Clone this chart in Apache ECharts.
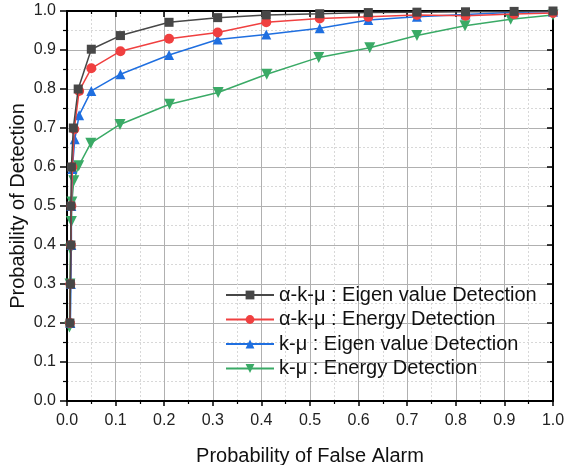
<!DOCTYPE html>
<html><head><meta charset="utf-8">
<script src="https://cdn.jsdelivr.net/npm/echarts@6/dist/echarts.min.js"></script>
<style>html,body{margin:0;padding:0;background:#fff}#c{width:566px;height:465px}</style>
</head><body><div id="c"></div>
<script>
var seriesNames = ['α-k-μ : Eigen value Detection','α-k-μ : Energy Detection','k-μ : Eigen value Detection','k-μ : Energy Detection'];
var akmEigen = [[0.006,0.2],[0.007,0.3],[0.008,0.4],[0.008,0.5],[0.009,0.6],[0.013,0.70],[0.023,0.80],[0.05,0.902],[0.11,0.937],[0.21,0.971],[0.31,0.983],[0.41,0.99],[0.52,0.993],[0.62,0.996],[0.72,0.997],[0.82,0.998],[0.92,0.999],[1.0,1.0]];
var akmEnergy = [[0.006,0.2],[0.007,0.3],[0.008,0.4],[0.009,0.5],[0.011,0.6],[0.015,0.697],[0.025,0.795],[0.05,0.853],[0.11,0.897],[0.21,0.929],[0.31,0.945],[0.41,0.971],[0.52,0.981],[0.62,0.985],[0.72,0.99],[0.82,0.988],[0.92,0.992],[1.0,0.995]];
var kmEigen = [[0.007,0.2],[0.008,0.3],[0.009,0.4],[0.009,0.5],[0.011,0.595],[0.016,0.671],[0.025,0.733],[0.05,0.795],[0.11,0.838],[0.21,0.887],[0.31,0.927],[0.41,0.94],[0.52,0.956],[0.62,0.977],[0.72,0.985],[0.82,0.991],[0.92,0.997],[1.0,0.998]];
var kmEnergy = [[0.005,0.19],[0.006,0.3],[0.007,0.39],[0.009,0.46],[0.01,0.51],[0.014,0.565],[0.024,0.603],[0.049,0.661],[0.109,0.709],[0.211,0.761],[0.311,0.791],[0.411,0.838],[0.518,0.881],[0.623,0.906],[0.72,0.937],[0.819,0.962],[0.913,0.979],[1.0,0.99]];
var colors = ['#474747','#f04040','#1f6fe0','#3aaa66'];
var symbols = ['rect','circle','triangle','path://M0,0 L10,0 L5,9 Z'];
var symSizes = [9,10,10,11];
var datasets = [akmEigen, akmEnergy, kmEigen, kmEnergy];

var font = '"Liberation Sans", Arial, sans-serif';
function fmt(v){return v.toFixed(1);}
function baseAxis(extra){
  var a = {
    type:'value', min:0, max:1, interval:0.1,
    axisLine:{show:true, onZero:false, lineStyle:{color:'#000', width:2}},
    axisTick:{show:true, length:6, lineStyle:{color:'#000', width:1.5}},
    minorTick:{show:true, splitNumber:2, length:3, lineStyle:{color:'#000', width:1.2}},
    axisLabel:{show:true, color:'#222', fontSize:16, fontFamily:font, formatter:fmt},
    splitLine:{show:false},
    minorSplitLine:{show:false}
  };
  for (var k in extra) a[k]=extra[k];
  return a;
}
var chart = echarts.init(document.getElementById('c'), null, {renderer:'canvas'});
var series = datasets.map(function(d,i){
  return {
    name: seriesNames[i], type:'line', data:d, xAxisIndex:0, yAxisIndex:0,
    symbol: symbols[i], symbolSize: symSizes[i], showSymbol:true,
    lineStyle:{color:colors[i], width:1.5},
    itemStyle:{color:colors[i]},
    z: 10-i
  };
});
chart.setOption({
  animation:false,
  color: colors,
  grid:{left:67, right:13, top:11, bottom:64, containLabel:false, outerBoundsMode:'none'},
  legend:{
    orient:'vertical', left:225, top:285, padding:0, itemWidth:48, itemHeight:11, itemGap:4.5,
    textStyle:{fontSize:20, fontFamily:font, color:'#111'},
    data: seriesNames
  },
  xAxis:[
    baseAxis({position:'bottom', name:'Probability of False Alarm', nameLocation:'middle', nameGap:45,
      nameTextStyle:{fontSize:20, fontFamily:font, color:'#111'},
      splitLine:{show:true, lineStyle:{color:'#b0b0b0', width:1}},
      minorSplitLine:{show:true, lineStyle:{color:'#d8d8d8', width:1, type:[2,2]}},
      axisTick:{show:true, length:5, lineStyle:{color:'#000', width:1.5}},
      axisLabel:{show:true, color:'#222', fontSize:16, fontFamily:font, margin:12, formatter:fmt}
    }),
    baseAxis({position:'top', axisLabel:{show:false}, axisTick:{show:true, inside:true, length:6, lineStyle:{color:'#000', width:1.5}}})
  ],
  yAxis:[
    baseAxis({position:'left', name:'Probability of Detection', nameLocation:'middle', nameGap:39, nameRotate:90,
      nameMoveOverlap:false,
      nameTextStyle:{fontSize:20, fontFamily:font, color:'#111'},
      splitLine:{show:true, lineStyle:{color:'#b0b0b0', width:1}},
      minorSplitLine:{show:true, lineStyle:{color:'#d8d8d8', width:1, type:[2,2]}},
      axisTick:{show:true, length:7, lineStyle:{color:'#000', width:1.5}},
      minorTick:{show:true, splitNumber:2, length:4, lineStyle:{color:'#000', width:1.2}},
      axisLabel:{show:true, color:'#222', fontSize:16, fontFamily:font, margin:11, formatter:fmt}
    }),
    baseAxis({position:'right', axisLabel:{show:false}, axisTick:{show:true, inside:true, length:6, lineStyle:{color:'#000', width:1.5}}})
  ],
  series: series
});
</script></body></html>
